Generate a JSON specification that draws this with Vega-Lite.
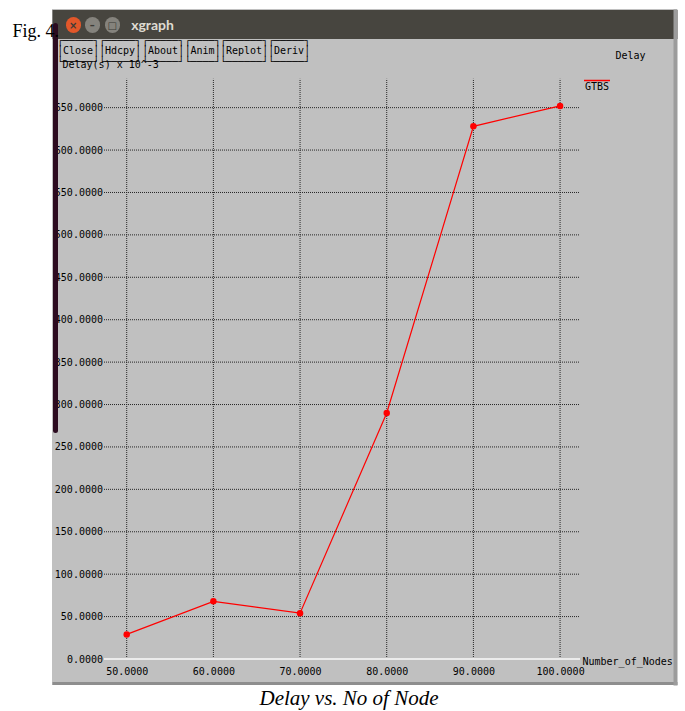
{
  "$schema": "https://vega.github.io/schema/vega-lite/v6.json",
  "width": 625,
  "height": 676,
  "autosize": {"type": "none"},
  "padding": {"left": 52, "top": 9, "right": 8, "bottom": 26},
  "background": "white",
  "title": {
    "text": "Delay vs. No of Node",
    "orient": "bottom",
    "anchor": "middle",
    "font": "Liberation Serif",
    "fontStyle": "italic",
    "fontSize": 21,
    "fontWeight": "normal",
    "color": "#000000",
    "baseline": "alphabetic",
    "offset": 20,
    "dx": -15.5
  },
  "config": {
    "view": {"fill": "#c0c0c0", "stroke": null},
    "axis": {
      "labelFont": "DejaVu Sans Mono",
      "labelFontSize": 10,
      "labelColor": "#000000",
      "titleFont": "DejaVu Sans Mono",
      "titleFontSize": 10,
      "titleFontWeight": "normal",
      "titleColor": "#000000",
      "labelFlush": false,
      "labelBound": false,
      "labelOverlap": false
    }
  },
  "datasets": {
    "delay": [
      {"nodes": 50, "delay": 29, "protocol": "GTBS"},
      {"nodes": 60, "delay": 68, "protocol": "GTBS"},
      {"nodes": 70, "delay": 54, "protocol": "GTBS"},
      {"nodes": 80, "delay": 290, "protocol": "GTBS"},
      {"nodes": 90, "delay": 628, "protocol": "GTBS"},
      {"nodes": 100, "delay": 652, "protocol": "GTBS"}
    ],
    "levels": [
      {"level": 0}, {"level": 50}, {"level": 100}, {"level": 150}, {"level": 200},
      {"level": 250}, {"level": 300}, {"level": 350}, {"level": 400}, {"level": 450},
      {"level": 500}, {"level": 550}, {"level": 600}, {"level": 650}
    ]
  },
  "layer": [
    {
      "data": {"name": "delay"},
      "mark": {"type": "rule", "color": "#262626", "strokeDash": [1, 1], "strokeWidth": 1},
      "encoding": {
        "x": {"field": "nodes", "type": "quantitative", "scale": {"domain": [41.38, 113.49], "nice": false, "zero": false}, "axis": null},
        "y": {"datum": 0, "type": "quantitative", "scale": {"domain": [-30.65, 766.3], "nice": false, "zero": false}, "axis": null},
        "y2": {"datum": 684}
      }
    },
    {
      "data": {"name": "levels"},
      "transform": [{"filter": "datum.level > 0"}],
      "mark": {"type": "rule", "color": "#262626", "strokeDash": [1, 1], "strokeWidth": 1},
      "encoding": {
        "y": {"field": "level", "type": "quantitative", "scale": {"domain": [-30.65, 766.3], "nice": false, "zero": false}, "axis": null},
        "x": {"datum": 47.38, "type": "quantitative", "scale": {"domain": [41.38, 113.49], "nice": false, "zero": false}, "axis": null},
        "x2": {"datum": 102.3}
      }
    },
    {
      "data": {"name": "levels"},
      "transform": [{"filter": "datum.level === 0"}],
      "mark": {"type": "rule", "color": "#ececec", "strokeWidth": 2},
      "encoding": {
        "y": {"field": "level", "type": "quantitative", "scale": {"domain": [-30.65, 766.3], "nice": false, "zero": false}, "axis": null},
        "x": {"datum": 47.38, "type": "quantitative", "scale": {"domain": [41.38, 113.49], "nice": false, "zero": false}, "axis": null},
        "x2": {"datum": 102.3}
      }
    },
    {
      "data": {"name": "delay"},
      "mark": {"type": "line", "strokeWidth": 1.2},
      "encoding": {
        "x": {
          "field": "nodes", "type": "quantitative",
          "scale": {"domain": [41.38, 113.49], "nice": false, "zero": false},
          "axis": {
            "orient": "bottom", "offset": -26,
            "values": [50, 60, 70, 80, 90, 100], "format": ".4f",
            "grid": false, "domain": false, "ticks": false,
            "labelPadding": 12, "labelBaseline": "middle",
            "title": "Number_of_Nodes",
            "titleX": 530, "titleY": 2, "titleAlign": "left", "titleBaseline": "middle", "titleAnchor": null
          }
        },
        "y": {
          "field": "delay", "type": "quantitative",
          "scale": {"domain": [-30.65, 766.3], "nice": false, "zero": false},
          "axis": {
            "orient": "left", "offset": -52,
            "values": [0, 50, 100, 150, 200, 250, 300, 350, 400, 450, 500, 550, 600, 650], "format": ".4f",
            "grid": false, "domain": false, "ticks": false,
            "labelPadding": 1.5,
            "title": "Delay(s) x 10^-3",
            "titleAngle": 0, "titleX": -42, "titleY": 55, "titleAlign": "left", "titleBaseline": "middle", "titleAnchor": null
          }
        },
        "color": {
          "field": "protocol", "type": "nominal",
          "scale": {"range": ["#ff0000"]},
          "legend": {
            "orient": "none", "legendX": 531, "legendY": 64,
            "title": null, "padding": 0,
            "symbolType": "M-1,-0.5L1,-0.5", "symbolSize": 676, "symbolStrokeWidth": 1.5,
            "labelOffset": -26, "labelFont": "DejaVu Sans Mono", "labelFontSize": 10, "labelColor": "#000000"
          }
        }
      }
    },
    {
      "data": {"name": "delay"},
      "mark": {"type": "point", "filled": true, "color": "#ff0000", "size": 42, "opacity": 1},
      "encoding": {
        "x": {
          "field": "nodes", "type": "quantitative",
          "scale": {"domain": [41.38, 113.49], "nice": false, "zero": false},
          "axis": {
            "orient": "top", "offset": -16, "zindex": 1,
            "values": [41.67, 43.77, 44.32, 45.96, 48.27, 49.17, 52.92, 54.13, 58.69, 63.48, 68.67],
            "labelExpr": "datum.value < 42 ? '' : datum.value < 44 ? '×' : datum.value < 45 ? ['┌─────┐','│Close│','└─────┘'] : datum.value < 47 ? '–' : datum.value < 49 ? '□' : datum.value < 50 ? ['┌─────┐','│Hdcpy│','└─────┘'] : datum.value < 53 ? 'xgraph' : datum.value < 55 ? ['┌─────┐','│About│','└─────┘'] : datum.value < 60 ? ['┌────┐','│Anim│','└────┘'] : datum.value < 65 ? ['┌──────┐','│Replot│','└──────┘'] : ['┌─────┐','│Deriv│','└─────┘']",
            "labelLineHeight": 10.5,
            "grid": false,
            "domain": false,
            "ticks": true, "tickCap": "round",
            "tickSize": {"condition": {"test": "datum.value < 42", "value": -405}, "value": 1},
            "tickWidth": {"condition": {"test": "datum.value < 42", "value": 5}, "value": 15},
            "tickColor": {
              "condition": [
                {"test": "datum.value < 42", "value": "#2c0b20"},
                {"test": "datum.value < 44", "value": "#e2572a"},
                {"test": "datum.value > 45.5 && datum.value < 48.5", "value": "#85837d"}
              ],
              "value": "transparent"
            },
            "labelBaseline": "middle",
            "labelPadding": {"condition": {"test": "(datum.value > 43 && datum.value < 44) || (datum.value > 45.5 && datum.value < 48.5) || (datum.value > 52 && datum.value < 53)", "value": -1}, "value": -16},
            "labelFont": {
              "condition": [
                {"test": "datum.value > 52 && datum.value < 53", "value": "Lato"},
                {"test": "(datum.value > 43 && datum.value < 44) || (datum.value > 45.5 && datum.value < 48.5)", "value": "DejaVu Sans"}
              ],
              "value": "DejaVu Sans Mono"
            },
            "labelFontSize": {"condition": {"test": "datum.value > 52 && datum.value < 53", "value": 14}, "value": 10},
            "labelFontWeight": {
              "condition": {"test": "(datum.value > 43 && datum.value < 44) || (datum.value > 45.5 && datum.value < 48.5) || (datum.value > 52 && datum.value < 53)", "value": "bold"},
              "value": "normal"
            },
            "labelColor": {
              "condition": [
                {"test": "datum.value > 52 && datum.value < 53", "value": "#dfdbd2"},
                {"test": "(datum.value > 43 && datum.value < 44) || (datum.value > 45.5 && datum.value < 48.5)", "value": "#3c3b37"}
              ],
              "value": "#000000"
            },
            "title": "Fig. 4.",
            "titleFont": "Liberation Serif", "titleFontSize": 18,
            "titleX": -40, "titleY": 11.5, "titleAlign": "left", "titleBaseline": "alphabetic", "titleAnchor": null
          }
        },
        "y": {
          "field": "delay", "type": "quantitative",
          "scale": {"domain": [-30.65, 766.3], "nice": false, "zero": false},
          "axis": {
            "orient": "right", "zindex": 0, "offset": -2,
            "values": [749.2, -28.88],
            "grid": true, "gridCap": "butt", "gridOpacity": 1, "gridDash": [],
            "gridColor": {"condition": {"test": "datum.value > 0", "value": "#47453f"}, "value": "#8e8e8e"},
            "gridWidth": {"condition": {"test": "datum.value > 0", "value": 29}, "value": 3},
            "domain": true, "domainColor": "#9c9c9c", "domainWidth": 4, "domainCap": "butt",
            "ticks": false, "labels": false,
            "title": "Delay",
            "titleAngle": 0, "titleX": -60, "titleY": 46, "titleAlign": "left", "titleBaseline": "middle", "titleAnchor": null
          }
        }
      }
    }
  ],
  "resolve": {"axis": {"x": "independent", "y": "independent"}}
}
